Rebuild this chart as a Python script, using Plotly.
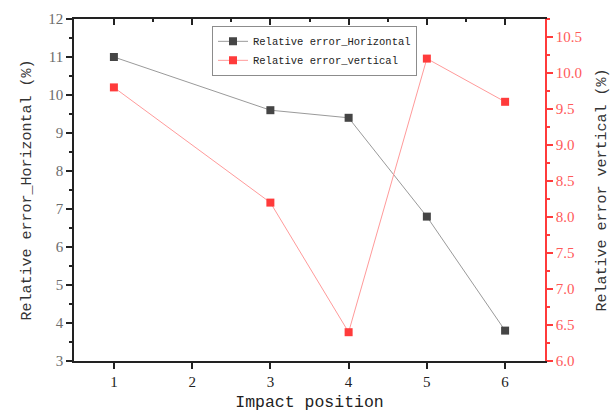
import plotly.graph_objects as go

# Impact positions (position 2 has no measurement)
positions_h = [1, 3, 4, 5, 6]
err_horizontal = [11.0, 9.6, 9.4, 6.8, 3.8]

positions_v = [1, 3, 4, 5, 6]
err_vertical = [9.8, 8.2, 6.4, 10.2, 9.6]

x_ticks = [1, 2, 3, 4, 5, 6]

MONO = "Liberation Mono, Courier New, monospace"
SERIF = "Liberation Serif, Times New Roman, serif"
RED = "#ff3b3b"
DARK = "#454545"

fig = go.Figure()

fig.add_trace(go.Scatter(
    x=positions_h, y=err_horizontal, name="Relative error_Horizontal",
    mode="lines+markers",
    line=dict(color="#9a9a9a", width=1),
    marker=dict(symbol="square", size=8, color=DARK),
    xaxis="x", yaxis="y",
))
fig.add_trace(go.Scatter(
    x=positions_v, y=err_vertical, name="Relative error_vertical",
    mode="lines+markers",
    line=dict(color="#ff9a9a", width=1),
    marker=dict(symbol="square", size=8, color=RED),
    xaxis="x", yaxis="y2",
))
# invisible trace so the top frame axis is drawn
fig.add_trace(go.Scatter(
    x=[x_ticks[0]], y=[err_horizontal[0]], mode="markers",
    marker=dict(opacity=0), showlegend=False, hoverinfo="skip",
    xaxis="x2", yaxis="y",
))

xr = [0.49, 6.51]

fig.update_layout(
    width=611, height=412,
    margin=dict(l=74, r=66, t=19, b=51, autoexpand=False),
    paper_bgcolor="white", plot_bgcolor="white",
    showlegend=True,
    legend=dict(
        x=0.293, y=0.98, xanchor="left", yanchor="top",
        bgcolor="white", bordercolor="#8c8c8c", borderwidth=1,
        font=dict(family=MONO, size=10.5, color="#222"),
        tracegroupgap=0, itemwidth=30,
    ),
    xaxis=dict(
        range=xr, tickvals=x_ticks, ticktext=[str(v) for v in x_ticks],
        showgrid=False, zeroline=False, automargin=False,
        showline=True, linecolor="#222", linewidth=1.5,
        ticks="outside", ticklen=6, tickcolor="#222", tickwidth=1.5,
        tickfont=dict(family=SERIF, size=15, color="#222"),
        title=dict(text="Impact position", font=dict(family=MONO, size=16.5, color="#222"),
                   standoff=14),
    ),
    xaxis2=dict(
        range=xr, overlaying="x", side="top", anchor="y",
        tickvals=x_ticks, showticklabels=False, automargin=False,
        showgrid=False, zeroline=False,
        showline=True, linecolor="#222", linewidth=1.5,
        ticks="inside", ticklen=6, tickcolor="#222", tickwidth=1.5,
        minor=dict(dtick=0.5, tick0=0.5, ticks="inside", ticklen=3, tickcolor="#222"),
    ),
    yaxis=dict(
        range=[3, 12], dtick=1, tick0=3, automargin=False,
        showgrid=False, zeroline=False,
        showline=True, linecolor="#222", linewidth=1.5,
        ticks="outside", ticklen=6, tickcolor="#222", tickwidth=1.5,
        minor=dict(dtick=0.5, ticks="outside", ticklen=3, tickcolor="#222"),
        tickfont=dict(family=SERIF, size=15, color="#6b6b6b"),
        title=dict(text="Relative error_Horizontal (%)",
                   font=dict(family=MONO, size=15, color="#333"), standoff=13),
    ),
    yaxis2=dict(
        range=[6, 10.75], dtick=0.5, tick0=6, tickformat=".1f",
        overlaying="y", side="right", anchor="x", automargin=False,
        showgrid=False, zeroline=False,
        showline=True, linecolor=RED, linewidth=1.5,
        ticks="outside", ticklen=6, tickcolor=RED, tickwidth=1.5,
        minor=dict(dtick=0.25, ticks="outside", ticklen=3, tickcolor=RED),
        tickfont=dict(family=SERIF, size=15, color="#ff5a5a"),
        title=dict(text="Relative error vertical (%)",
                   font=dict(family=MONO, size=15, color="#333"), standoff=14),
    ),
)

fig.write_html("out.html")
